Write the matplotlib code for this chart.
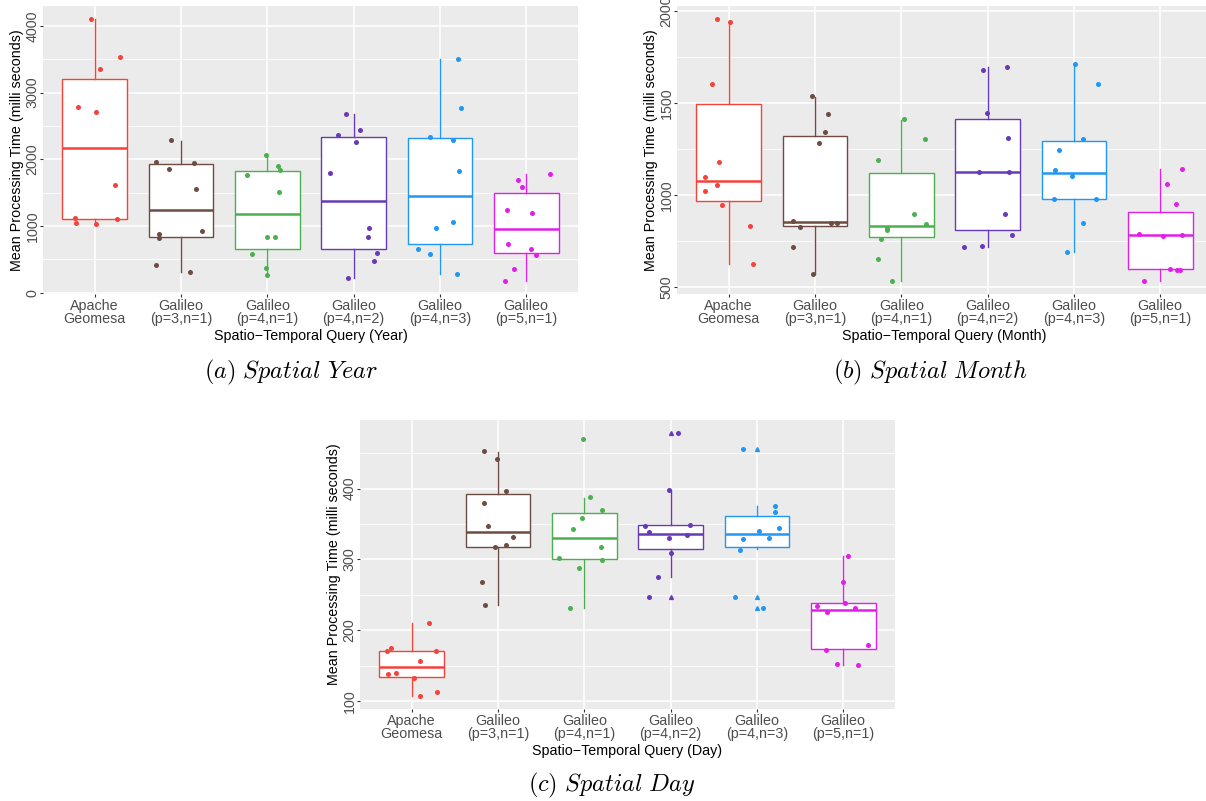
import matplotlib
matplotlib.use('Agg')
import matplotlib.pyplot as plt
import numpy as np

plt.rcParams['font.family'] = ['Liberation Sans', 'DejaVu Sans']
plt.rcParams['mathtext.fontset'] = 'cm'

# Categories and colours
groups = ['Apache\nGeomesa', 'Galileo\n(p=3,n=1)', 'Galileo\n(p=4,n=1)',
          'Galileo\n(p=4,n=2)', 'Galileo\n(p=4,n=3)', 'Galileo\n(p=5,n=1)']
colors = ['#F4433A', '#6D4C41', '#4CAF50', '#673AB7', '#2196F3', '#E020E8']

# (a) Spatial Year
year_pts = [
    [4100, 3537, 3347, 2785, 2715, 1614, 1121, 1111, 1051, 1031],
    [2286, 1967, 1943, 1853, 1554, 931, 882, 827, 413, 314],
    [2067, 1758, 1893, 1843, 1509, 842, 842, 588, 369, 264],
    [2685, 2446, 2361, 2256, 1788, 966, 837, 598, 473, 224],
    [3507, 2769, 2336, 2296, 1828, 1066, 966, 657, 583, 279],
    [1783, 1694, 1584, 1240, 1190, 732, 653, 573, 359, 179],
]
year_jit = [
    [-0.04, 0.29, 0.06, -0.19, 0.01, 0.23, -0.23, 0.26, -0.22, 0.01],
    [-0.12, -0.29, 0.15, -0.14, 0.17, 0.24, -0.25, -0.26, -0.29, 0.10],
    [-0.01, -0.24, 0.12, 0.15, 0.13, 0.0, 0.09, -0.18, -0.02, 0.0],
    [-0.09, 0.07, -0.18, 0.03, -0.27, 0.18, 0.17, 0.27, 0.24, -0.07],
    [0.21, 0.24, -0.11, 0.15, 0.22, 0.15, -0.04, -0.25, -0.11, 0.20],
    [0.28, -0.09, -0.05, -0.22, 0.07, -0.21, 0.06, 0.11, -0.14, -0.25],
]
year_q1 = [1111, 837, 653, 662, 732, 593]
year_med = [2167, 1245, 1176, 1375, 1444, 961]
year_q3 = [3203, 1923, 1818, 2336, 2326, 1494]
year_lo = [1031, 314, 264, 224, 279, 179]
year_hi = [4100, 2276, 2067, 2680, 3507, 1778]
year_out = [[], [], [], [], [], []]

# (b) Spatial Month
month_pts = [
    [1955, 1937, 1603, 1180, 1099, 1054, 1022, 946, 834, 626],
    [1538, 1442, 1343, 1280, 857, 848, 850, 825, 717, 570],
    [1412, 1305, 1191, 899, 843, 821, 812, 762, 655, 534],
    [1680, 1695, 1446, 1312, 1126, 1126, 897, 782, 722, 717],
    [1711, 1605, 1305, 1247, 1134, 1106, 977, 977, 848, 693],
    [1144, 1060, 949, 791, 780, 782, 601, 592, 594, 536],
]
month_jit = [
    [-0.14, 0.01, -0.20, -0.11, -0.28, -0.14, -0.28, -0.08, 0.25, 0.28],
    [-0.04, 0.15, 0.11, 0.05, -0.25, 0.18, 0.25, -0.17, -0.26, -0.02],
    [0.03, 0.27, -0.27, 0.15, 0.29, -0.17, -0.17, -0.24, -0.27, -0.11],
    [-0.05, 0.23, -0.01, 0.24, -0.10, 0.25, 0.20, 0.28, -0.07, -0.27],
    [0.01, 0.28, 0.10, -0.17, -0.22, -0.02, -0.23, 0.25, 0.11, -0.08],
    [0.25, 0.08, 0.18, -0.25, 0.03, 0.25, 0.11, 0.20, 0.23, -0.19],
]
month_q1 = [966, 830, 773, 810, 977, 596]
month_med = [1076, 856, 832, 1126, 1121, 782]
month_q3 = [1496, 1323, 1117, 1412, 1291, 910]
month_lo = [626, 570, 534, 718, 693, 536]
month_hi = [1946, 1534, 1408, 1695, 1711, 1141]
month_out = [[], [], [], [], [], []]

# (c) Spatial Day
day_pts = [
    [210.7, 174.4, 171.1, 170.7, 157.0, 139.6, 138.6, 133.0, 112.7, 107.5],
    [452.3, 442.4, 396.7, 379.8, 347.7, 331.7, 320.4, 317.1, 267.7, 235.2],
    [469.7, 387.8, 369.4, 359.1, 343.0, 318.1, 302.5, 299.7, 288.4, 231.4],
    [478.2, 398.1, 347.7, 348.7, 338.8, 329.9, 335.0, 308.7, 275.2, 247.4],
    [456.5, 375.1, 367.1, 344.5, 340.2, 328.9, 330.8, 313.8, 246.5, 231.4],
    [305.4, 268.6, 234.7, 238.9, 231.9, 225.8, 179.1, 172.1, 152.3, 150.4],
]
day_jit = [
    [0.20, -0.24, -0.29, 0.28, 0.09, -0.18, -0.27, 0.02, 0.29, 0.09],
    [-0.16, -0.01, 0.09, -0.16, -0.12, 0.17, 0.09, -0.04, -0.19, -0.15],
    [-0.01, 0.06, 0.21, -0.03, -0.13, 0.19, -0.29, 0.21, -0.06, -0.17],
    [0.08, -0.02, -0.30, 0.22, -0.25, -0.02, 0.19, 0.0, -0.15, -0.25],
    [-0.16, 0.21, 0.21, 0.26, 0.02, -0.16, 0.14, -0.20, -0.25, 0.07],
    [0.06, 0.0, -0.30, 0.02, 0.14, -0.19, 0.29, -0.20, -0.07, 0.17],
]
day_q1 = [133.9, 318.1, 300.2, 314.3, 318.1, 173.5]
day_med = [148.0, 339.3, 330.3, 336.4, 335.5, 228.6]
day_q3 = [170.2, 392.5, 366.1, 348.2, 361.4, 238.0]
day_lo = [107.5, 235.2, 231.4, 275.7, 315.3, 150.9]
day_hi = [210.0, 451.4, 386.8, 398.1, 375.1, 305.4]
day_out = [[], [], [], [478.2, 247.4], [456.5, 246.5, 231.9], []]

FS = 10.3
W, H = 1206, 801


def panel(rect, pts, jit, q1, med, q3, lo, hi, outl, major, minor, xtitle):
    ax = fig.add_axes([rect[0] / W, 1 - rect[3] / H,
                       (rect[2] - rect[0]) / W, (rect[3] - rect[1]) / H])
    ax.set_facecolor('#EBEBEB')
    for s in ax.spines.values():
        s.set_visible(False)
    ax.set_axisbelow(True)

    x = np.arange(1, len(groups) + 1)
    for i in range(len(groups)):
        st = dict(q1=q1[i], med=med[i], q3=q3[i], whislo=lo[i], whishi=hi[i],
                  fliers=outl[i])
        c = colors[i]
        ax.bxp([st], positions=[x[i]], widths=0.75, patch_artist=True,
               showcaps=False,
               boxprops=dict(facecolor='white', edgecolor=c, linewidth=1.0),
               medianprops=dict(color=c, linewidth=1.8),
               whiskerprops=dict(color=c, linewidth=1.0),
               flierprops=dict(marker='^', markerfacecolor=c, markeredgecolor=c,
                               markersize=2.8, linestyle='none'))
        ax.scatter(x[i] + np.array(jit[i]), pts[i], s=13, color=c,
                   linewidths=0, zorder=4)

    allv = [v for g in pts for v in g] + lo + hi
    mn, mx = min(allv), max(allv)
    ax.set_ylim(mn - 0.05 * (mx - mn), mx + 0.05 * (mx - mn))
    ax.set_xlim(0.4, len(groups) + 0.6)
    ax.set_yticks(major)
    ax.set_yticks(minor, minor=True)
    ax.set_xticks(x)
    ax.set_xticks([], minor=True)
    ax.set_xticklabels(groups, linespacing=0.95)
    ax.grid(True, which='major', color='white', linewidth=1.1)
    ax.grid(True, which='minor', axis='y', color='white', linewidth=0.55)
    ax.tick_params(which='major', length=2, width=0.8, color='#333333',
                   labelcolor='#4D4D4D', labelsize=FS, pad=1.5)
    ax.tick_params(axis='y', which='major', pad=0.5)
    ax.tick_params(which='minor', length=0)
    for t in ax.get_yticklabels():
        t.set_rotation(90)
        t.set_va('center')
    ax.set_ylabel('Mean Processing Time (milli seconds)', fontsize=FS,
                  labelpad=1)
    ax.set_xlabel(xtitle, fontsize=FS, labelpad=2)
    return ax


fig = plt.figure(figsize=(W / 100, H / 100), dpi=100)

panel((43, 6, 578, 294), year_pts, year_jit, year_q1, year_med, year_q3,
      year_lo, year_hi, year_out, [0, 1000, 2000, 3000, 4000],
      [500, 1500, 2500, 3500], 'Spatio\u2212Temporal Query (Year)')
panel((677, 6, 1212, 294), month_pts, month_jit, month_q1, month_med, month_q3,
      month_lo, month_hi, month_out, [500, 1000, 1500, 2000],
      [750, 1250, 1750], 'Spatio\u2212Temporal Query (Month)')
panel((360, 420, 895, 709), day_pts, day_jit, day_q1, day_med, day_q3,
      day_lo, day_hi, day_out, [100, 200, 300, 400],
      [150, 250, 350, 450], 'Spatio\u2212Temporal Query (Day)')

fig.text(291 / W, 1 - 372 / H, r'$\mathit{(a)\ Spatial\ Year}$',
         ha='center', va='center', fontsize=17.5)
fig.text(930 / W, 1 - 372 / H, r'$\mathit{(b)\ Spatial\ Month}$',
         ha='center', va='center', fontsize=17.5)
fig.text(612 / W, 1 - 785 / H, r'$\mathit{(c)\ Spatial\ Day}$',
         ha='center', va='center', fontsize=17.5)

fig.savefig('out.png', dpi=100)
